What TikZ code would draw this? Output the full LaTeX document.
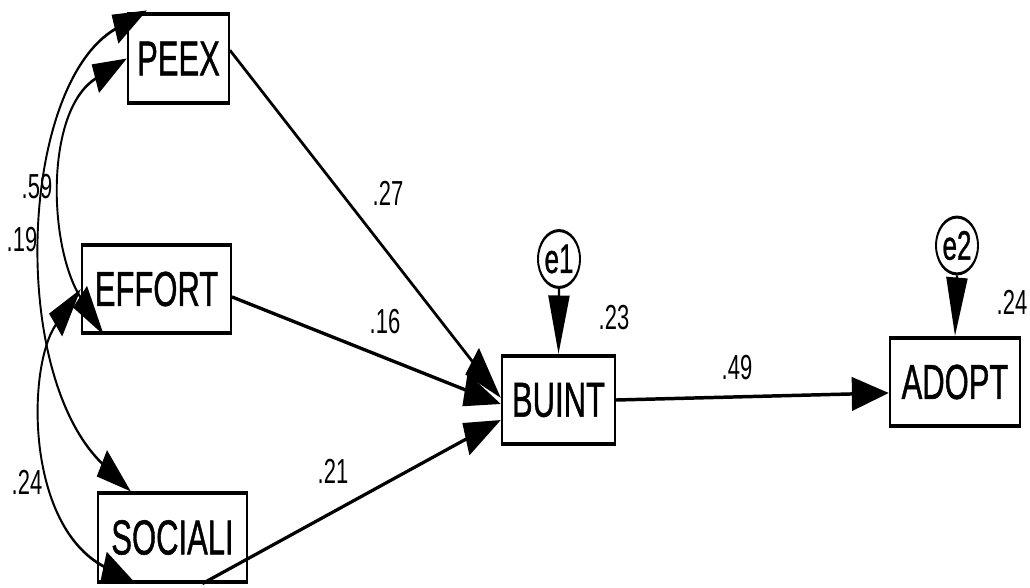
\documentclass[tikz,border=0pt]{standalone}
\usepackage{fontspec}
\setmainfont{Liberation Sans}
\newfontfamily\heavysans{Liberation Sans}[FakeBold=1.2]
\usetikzlibrary{arrows.meta,shapes.geometric,calc}
\tikzset{
  obs/.style={draw, line width=2.3pt, inner sep=0pt, minimum height=56pt,
    font=\heavysans\fontsize{31}{31}\selectfont},
  err/.style={draw, ellipse, line width=1.9pt, inner sep=0pt,
    minimum width=42pt, minimum height=36pt, font=\heavysans\fontsize{26}{26}\selectfont},
  coef/.style={inner sep=0pt, font=\fontsize{22}{22}\selectfont},
  reg/.style={line width=2.2pt, -{Triangle[length=37pt,width=21pt]}},
  cov/.style={line width=1.9pt,
    {Triangle[length=34pt,width=19pt]}-{Triangle[length=34pt,width=19pt]}},
}
\begin{document}
\begin{tikzpicture}
\fill[white] (0,0) rectangle (1030pt,-587pt);
\useasboundingbox (0,0) rectangle (1030pt,-587pt);
% pixel-style coordinates, y downwards; the canvas is stretched vertically
\begin{scope}[x=1pt, y=-0.63291pt, transform canvas={yscale=1.58}]
  % observed variables
  \node[obs, minimum width=101pt] (PEEX)    at (178.5,58.5) {PEEX};
  \node[obs, minimum width=149pt] (EFFORT)  at (156.5,289)  {EFFORT};
  \node[obs, minimum width=149pt] (SOCIALI) at (172.5,537.5) {SOCIALI};
  \node[obs, minimum width=113pt] (BUINT)   at (558.5,400)  {BUINT};
  \node[obs, minimum width=130pt] (ADOPT)   at (955,382)    {ADOPT};
  % error terms
  \node[err] (e1) at (559,259) {e1};
  \node[err] (e2) at (957,245.5) {e2};

  % regression paths
  \draw[reg] ($(PEEX.east)+(0,-8)$) -- ($(BUINT.west)+(0,-2)$);
  \draw[reg] ($(EFFORT.east)+(0,8)$) -- ($(BUINT.west)+(0,4)$);
  \draw[reg] ($(SOCIALI.south)+(30,0)$) -- ($(BUINT.west)+(0,20)$);
  \draw[reg] (BUINT.east) -- ($(ADOPT.west)+(0,11)$);
  \draw[reg] (e1.south) -- (BUINT.north);
  \draw[reg] (e2.south) -- (ADOPT.north);

  % covariances
  \draw[cov] (PEEX.west) .. controls (45,111) and (48,245) .. ($(EFFORT.south west)+(23,0)$);
  \draw[cov] ($(PEEX.north west)+(20,-2)$) .. controls (20,85) and (8,372) .. ($(SOCIALI.north west)+(34,0)$);
  \draw[cov] (EFFORT.west) .. controls (27,366) and (25,524.5) .. ($(SOCIALI.south west)+(39,0)$);

  % estimates
  \node[coef] (c27) at (388,193) {.27};
  \node[coef] (c16) at (385,322) {.16};
  \node[coef] (c21) at (333,471) {.21};
  \node[coef] (c49) at (737,368) {.49};
  \node[coef] (c23) at (614,318) {.23};
  \node[coef] (c24r) at (1012,302) {.24};
  \node[coef] (c59) at (37,187) {.59};
  \node[coef] (c19) at (22,240) {.19};
  \node[coef] (c24l) at (27,482) {.24};
\end{scope}
\end{tikzpicture}
\end{document}
